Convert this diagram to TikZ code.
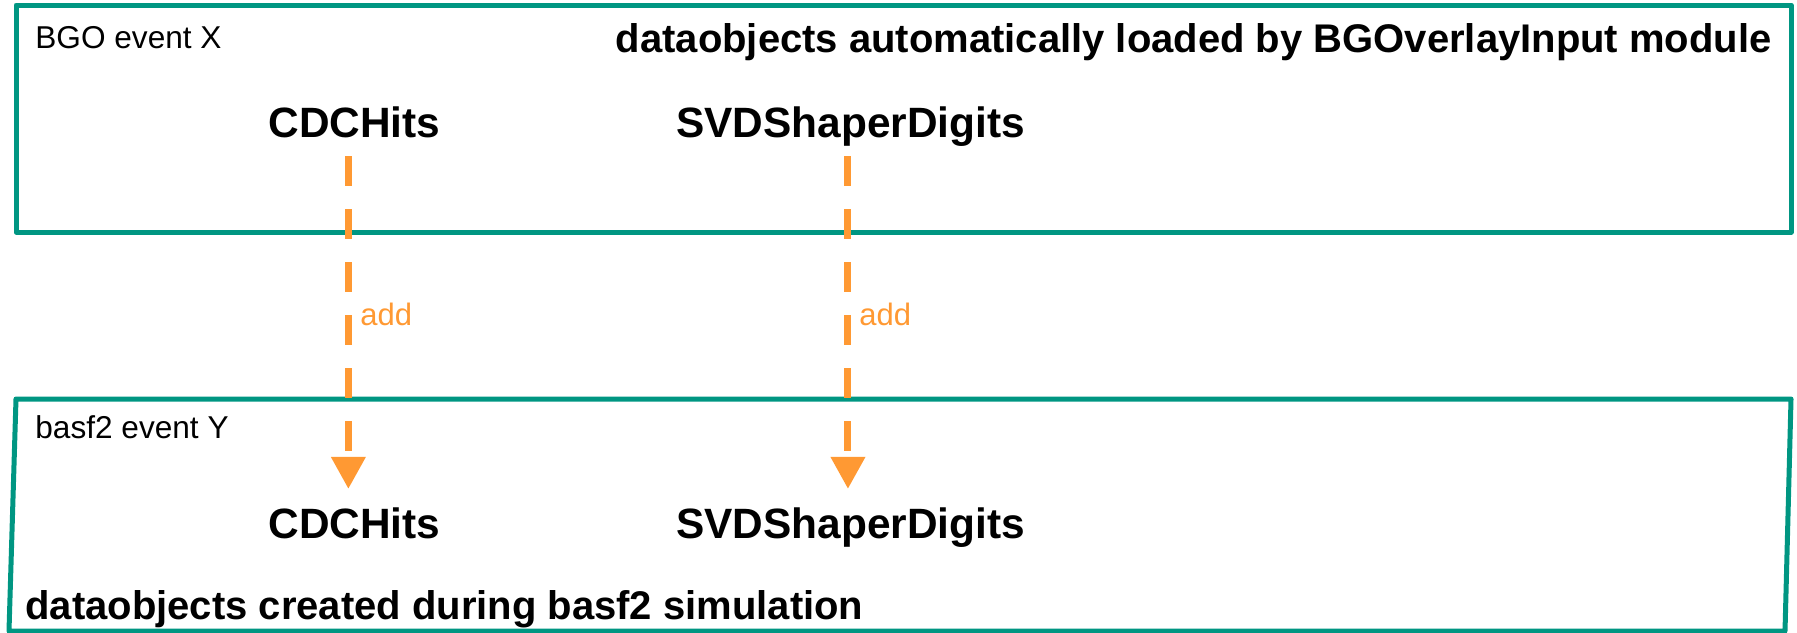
\documentclass[tikz,border=0pt]{standalone}
\usepackage{fontspec}
\setmainfont{Liberation Sans}
\usetikzlibrary{arrows.meta}
\definecolor{teal}{RGB}{0,150,130}
\definecolor{addorange}{RGB}{255,153,51}
\tikzset{
  boxline/.style={draw=teal, line width=2.5pt, line join=round},
  small/.style={font=\fontsize{15.8}{18}\selectfont, inner sep=0pt},
  bigtitle/.style={font=\fontsize{20}{24}\selectfont\bfseries, inner sep=0pt},
  objname/.style={font=\fontsize{21.2}{25}\selectfont\bfseries, inner sep=0pt},
  addlabel/.style={font=\fontsize{15.5}{18}\selectfont, text=addorange, inner sep=0pt, anchor=base west},
  addarrow/.style={draw=addorange, line width=3.5pt, dash pattern=on 15pt off 11.5pt,
    -{Triangle[width=16.5pt,length=16pt]}, shorten <=9.5pt, shorten >=9pt},
}
\begin{document}
\begin{tikzpicture}[x=0.5pt,y=-0.5pt]
\useasboundingbox (0,0) rectangle (1797,632);
\clip (0,0) rectangle (1797,632);
% boxes
\draw[boxline] (16,5) rectangle (1791,232);
\draw[boxline] (16,399) -- (1791,399) -- (1785,631) -- (9,631) -- cycle;
% texts
\node[small, anchor=base west] (bgo) at (35,48) {BGO event X};
\node[bigtitle, anchor=base east] (t1) at (1772,52) {dataobjects automatically loaded by BGOverlayInput module};
\node[objname, anchor=base west] (ct) at (268,137) {CDCHits};
\node[objname, anchor=base west] (st) at (676,137) {SVDShaperDigits};
\node[small, anchor=base west] (basf) at (35,438) {basf2 event Y};
\node[objname, anchor=base west] (cb) at (268,538) {CDCHits};
\node[objname, anchor=base west] (sb) at (676,538) {SVDShaperDigits};
\node[bigtitle, anchor=base west] (t2) at (25,619) {dataobjects created during basf2 simulation};
% arrows
\draw[addarrow] ([xshift=-3pt]ct.base) -- ([xshift=-3pt]cb.north);
\draw[addarrow] ([xshift=-1.4pt]st.base) -- ([xshift=-1.4pt]sb.north);
\node[addlabel] (a1) at (360,325) {add};
\node[addlabel] (a2) at (859,325) {add};
\end{tikzpicture}
\end{document}
